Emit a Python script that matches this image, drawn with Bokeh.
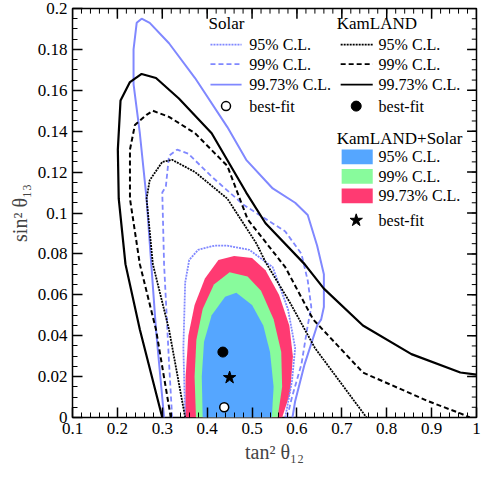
from bokeh.plotting import figure
from bokeh.models import Range1d, FixedTicker
from bokeh.core.properties import value
from bokeh.embed import file_html
from bokeh.resources import INLINE

# KamLAND+Solar allowed regions (filled)
ks_99_73_x = [0.351, 0.352, 0.358, 0.372, 0.395, 0.425, 0.46, 0.50, 0.53, 0.56, 0.583, 0.591, 0.585, 0.567]
ks_99_73_y = [0.0, 0.02, 0.04, 0.055, 0.068, 0.077, 0.079, 0.078, 0.072, 0.060, 0.045, 0.03, 0.012, 0.0]
ks_99_x = [0.375, 0.372, 0.376, 0.39, 0.415, 0.45, 0.49, 0.52, 0.548, 0.565, 0.567, 0.557]
ks_99_y = [0.0, 0.02, 0.038, 0.053, 0.065, 0.071, 0.069, 0.062, 0.048, 0.032, 0.015, 0.0]
ks_95_x = [0.39, 0.388, 0.393, 0.41, 0.44, 0.465, 0.50, 0.525, 0.54, 0.548, 0.544]
ks_95_y = [0.0, 0.02, 0.037, 0.050, 0.059, 0.061, 0.055, 0.045, 0.032, 0.015, 0.0]

# KamLAND contours
kl_99_73_x = [0.30, 0.25, 0.218, 0.203, 0.201, 0.207, 0.228, 0.254, 0.286, 0.337, 0.41, 0.487, 0.53, 0.617, 0.66, 0.747, 0.855, 0.964, 1.0]
kl_99_73_y = [0.0, 0.043, 0.075, 0.107, 0.131, 0.155, 0.164, 0.168, 0.166, 0.156, 0.139, 0.110, 0.095, 0.075, 0.063, 0.045, 0.031, 0.022, 0.021]
kl_99_x = [0.319, 0.286, 0.25, 0.228, 0.228, 0.239, 0.265, 0.279, 0.315, 0.373, 0.445, 0.49, 0.574, 0.636, 0.747, 0.892, 0.964, 0.985]
kl_99_y = [0.0, 0.043, 0.075, 0.107, 0.131, 0.143, 0.148, 0.150, 0.147, 0.139, 0.123, 0.097, 0.0735, 0.048, 0.022, 0.008, 0.002, 0.0]
kl_95_x = [0.351, 0.315, 0.279, 0.265, 0.272, 0.30, 0.322, 0.373, 0.445, 0.51, 0.53, 0.585, 0.64, 0.755]
kl_95_y = [0.0, 0.043, 0.075, 0.107, 0.116, 0.125, 0.126, 0.120, 0.107, 0.085, 0.076, 0.056, 0.034, 0.0]

# Solar contours
so_99_73_x = [0.304, 0.286, 0.265, 0.25, 0.236, 0.236, 0.243, 0.254, 0.272, 0.315, 0.373, 0.445, 0.487, 0.546, 0.596, 0.624, 0.645, 0.66, 0.66, 0.654, 0.645, 0.617, 0.596, 0.59]
so_99_73_y = [0.0, 0.043, 0.107, 0.139, 0.163, 0.18, 0.193, 0.195, 0.193, 0.183, 0.166, 0.142, 0.126, 0.112, 0.105, 0.099, 0.084, 0.070, 0.054, 0.048, 0.045, 0.026, 0.008, 0.0]
so_99_x = [0.322, 0.315, 0.304, 0.30, 0.308, 0.315, 0.333, 0.358, 0.409, 0.481, 0.574, 0.61, 0.624, 0.632, 0.624, 0.61, 0.589, 0.578]
so_99_y = [0.0, 0.027, 0.075, 0.11, 0.113, 0.128, 0.131, 0.129, 0.118, 0.104, 0.091, 0.080, 0.067, 0.054, 0.045, 0.026, 0.01, 0.0]
so_95_x = [0.351, 0.347, 0.351, 0.36, 0.38, 0.416, 0.445, 0.494, 0.546, 0.58, 0.596, 0.589, 0.574]
so_95_y = [0.0, 0.034, 0.066, 0.077, 0.082, 0.084, 0.084, 0.082, 0.0735, 0.053, 0.034, 0.018, 0.0]

# best-fit points
bf_solar = (0.438, 0.005)
bf_kamland = (0.435, 0.032)
bf_combined = (0.45, 0.0195)

xt = [0.1, 0.2, 0.3, 0.4, 0.5, 0.6, 0.7, 0.8, 0.9, 1.0]
yt = [0.0, 0.02, 0.04, 0.06, 0.08, 0.1, 0.12, 0.14, 0.16, 0.18, 0.2]
xminor = [round(0.1 + 0.02 * i, 3) for i in range(46)]
yminor = [round(0.005 * i, 4) for i in range(41)]

SOLAR = "#8088ff"
SERIF = "Liberation Serif"

p = figure(width=484, height=467, output_backend="svg", toolbar_location=None,
           x_range=Range1d(0.1, 1.0), y_range=Range1d(0.0, 0.2),
           min_border_left=72, min_border_right=8, min_border_top=8, min_border_bottom=50)
p.grid.visible = False
p.outline_line_color = "black"
p.outline_line_width = 1.5

p.patch(ks_99_73_x, ks_99_73_y, fill_color="#ff3a72", line_color=None)
p.patch(ks_99_x, ks_99_y, fill_color="#88fb9c", line_color=None)
p.patch(ks_95_x, ks_95_y, fill_color="#55a6ff", line_color=None)

p.line(so_95_x, so_95_y, line_color=SOLAR, line_width=1.8, line_dash="2 1")
p.line(so_99_x, so_99_y, line_color=SOLAR, line_width=1.8, line_dash="5 3")
p.line(so_99_73_x, so_99_73_y, line_color=SOLAR, line_width=2)
p.line(kl_95_x, kl_95_y, line_color="black", line_width=1.8, line_dash="2 1")
p.line(kl_99_x, kl_99_y, line_color="black", line_width=2, line_dash="5 3")
p.line(kl_99_73_x, kl_99_73_y, line_color="black", line_width=2.2)

p.scatter([bf_solar[0]], [bf_solar[1]], size=9, fill_color="white", line_color="black", line_width=1.5)
p.scatter([bf_kamland[0]], [bf_kamland[1]], size=10, color="black")
p.scatter([bf_combined[0]], [bf_combined[1]], marker="star", size=13, color="black")

# top and right inner ticks
p.segment(xt, [0.2] * len(xt), xt, [0.195] * len(xt), line_color="black", line_width=1.5)
p.segment(xminor, [0.2] * len(xminor), xminor, [0.1975] * len(xminor), line_color="black")
p.segment([1.0] * len(yt), yt, [0.979] * len(yt), yt, line_color="black", line_width=1.5)
p.segment([1.0] * len(yminor), yminor, [0.9895] * len(yminor), yminor, line_color="black")

# legend, placed by hand like the original
def lx(px):
    return 0.1 + (px - 81) / 462.0

def ly(py):
    return (424 - py) / 2095.0

tfont = value(SERIF)
p.text([lx(221), lx(353), lx(353)], [ly(20), ly(20), ly(138)],
       text=["Solar", "KamLAND", "KamLAND+Solar"], text_font=tfont,
       text_font_size="17px", text_baseline="middle")
labels = ["95% C.L.", "99% C.L.", "99.73% C.L.", "best-fit"]
rows = [42, 62, 83, 105]
p.text([lx(263)] * 4, [ly(r) for r in rows], text=labels, text_font=tfont,
       text_font_size="16px", text_baseline="middle")
p.text([lx(396)] * 4, [ly(r) for r in rows], text=labels, text_font=tfont,
       text_font_size="16px", text_baseline="middle")
dashes = ["2 1", "5 3", "solid"]
for r, d in zip(rows[:3], dashes):
    p.line([lx(223), lx(255)], [ly(r), ly(r)], line_color=SOLAR, line_width=1.8, line_dash=d)
    p.line([lx(357), lx(390)], [ly(r), ly(r)], line_color="black", line_width=1.8, line_dash=d)
p.scatter([lx(239)], [ly(105)], size=9, fill_color="white", line_color="black", line_width=1.5)
p.scatter([lx(373)], [ly(105)], size=10, color="black")

crow = [157, 177, 197, 222]
p.text([lx(396)] * 4, [ly(r) for r in crow], text=labels, text_font=tfont,
       text_font_size="16px", text_baseline="middle")
for r, c in zip(crow[:3], ["#55a6ff", "#88fb9c", "#ff3a72"]):
    p.quad(left=lx(358), right=lx(390), bottom=ly(r + 7.5), top=ly(r - 7.5), fill_color=c, line_color=None)
p.scatter([lx(373)], [ly(222)], marker="star", size=13, color="black")

# axes
p.xaxis.axis_label = "tan² θ₁₂"
p.yaxis.axis_label = "sin² θ₁₃"
for ax, t, m in [(p.xaxis[0], xt, xminor), (p.yaxis[0], yt, yminor)]:
    ax.ticker = FixedTicker(ticks=t, minor_ticks=m)
    ax.major_label_overrides = {v: ("%g" % v) for v in t}
    ax.major_tick_in = 10
    ax.major_tick_out = 0
    ax.minor_tick_in = 5
    ax.minor_tick_out = 0
    ax.axis_line_color = None
    ax.major_tick_line_width = 1.5
    ax.major_label_text_font = SERIF
    ax.major_label_text_font_size = "17px"
    ax.major_label_text_color = "black"
    ax.axis_label_text_font = SERIF
    ax.axis_label_text_font_size = "20px"
    ax.axis_label_text_font_style = "normal"
    ax.axis_label_standoff = 4
p.yaxis[0].major_label_orientation = "horizontal"

open("out.html", "w").write(file_html(p, INLINE))
